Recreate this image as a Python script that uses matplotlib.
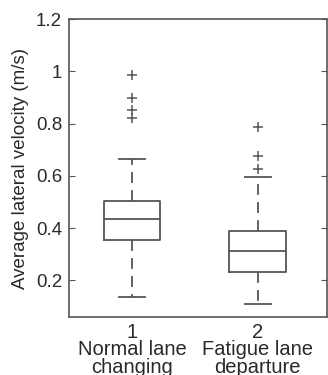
import matplotlib
matplotlib.use("Agg")
import matplotlib.pyplot as plt

plt.rcParams['font.family'] = ['Liberation Sans', 'DejaVu Sans']

# Data
positions = [1, 2]
tick_labels = ["1\nNormal lane\nchanging", "2\nFatigue lane\ndeparture"]
q1 = [0.354, 0.231]
med = [0.436, 0.314]
q3 = [0.505, 0.388]
whislo = [0.138, 0.108]
whishi = [0.664, 0.595]
fliers = [[0.985, 0.899, 0.850, 0.822], [0.785, 0.676, 0.627]]
ylabel = "Average lateral velocity (m/s)"
yticks = [0.2, 0.4, 0.6, 0.8, 1.0, 1.2]
ytick_labels = ["0.2", "0.4", "0.6", "0.8", "1", "1.2"]

line_c = "#555555"
text_c = "#2a2a2a"

fig = plt.figure(figsize=(3.28, 3.75), dpi=100)
ax = fig.add_axes([69/328, 1 - 317/375, (327 - 69)/328, (317 - 19)/375])

stats = []
for i in range(len(positions)):
    stats.append(dict(q1=q1[i], med=med[i], q3=q3[i], whislo=whislo[i],
                      whishi=whishi[i], fliers=fliers[i]))

ax.bxp(stats, positions=positions, widths=0.45, showfliers=True,
       boxprops=dict(color=line_c, linewidth=1.3),
       medianprops=dict(color=line_c, linewidth=1.3),
       whiskerprops=dict(color=line_c, linewidth=1.3, linestyle=(0, (6, 4))),
       capprops=dict(color=line_c, linewidth=1.3),
       capwidths=0.21,
       flierprops=dict(marker='+', markeredgecolor=line_c, markersize=7,
                       markeredgewidth=1.1, linestyle='none'))

ax.set_xlim(0.5, 2.55)
ax.set_ylim(0.06, 1.2)
ax.set_xticks(positions)
ax.set_xticklabels(tick_labels, fontsize=14.5, color=text_c, linespacing=0.92)
ax.set_yticks(yticks)
ax.set_yticklabels(ytick_labels, fontsize=13.5, color=text_c)
ax.tick_params(axis='x', length=0, pad=4)
ax.tick_params(axis='y', direction='in', length=4, right=True, color=line_c, pad=5)
ax.set_ylabel(ylabel, fontsize=13.5, color=text_c, labelpad=5)
for s in ax.spines.values():
    s.set_color(line_c)
    s.set_linewidth(1.2)

fig.savefig("out.png", dpi=100)
